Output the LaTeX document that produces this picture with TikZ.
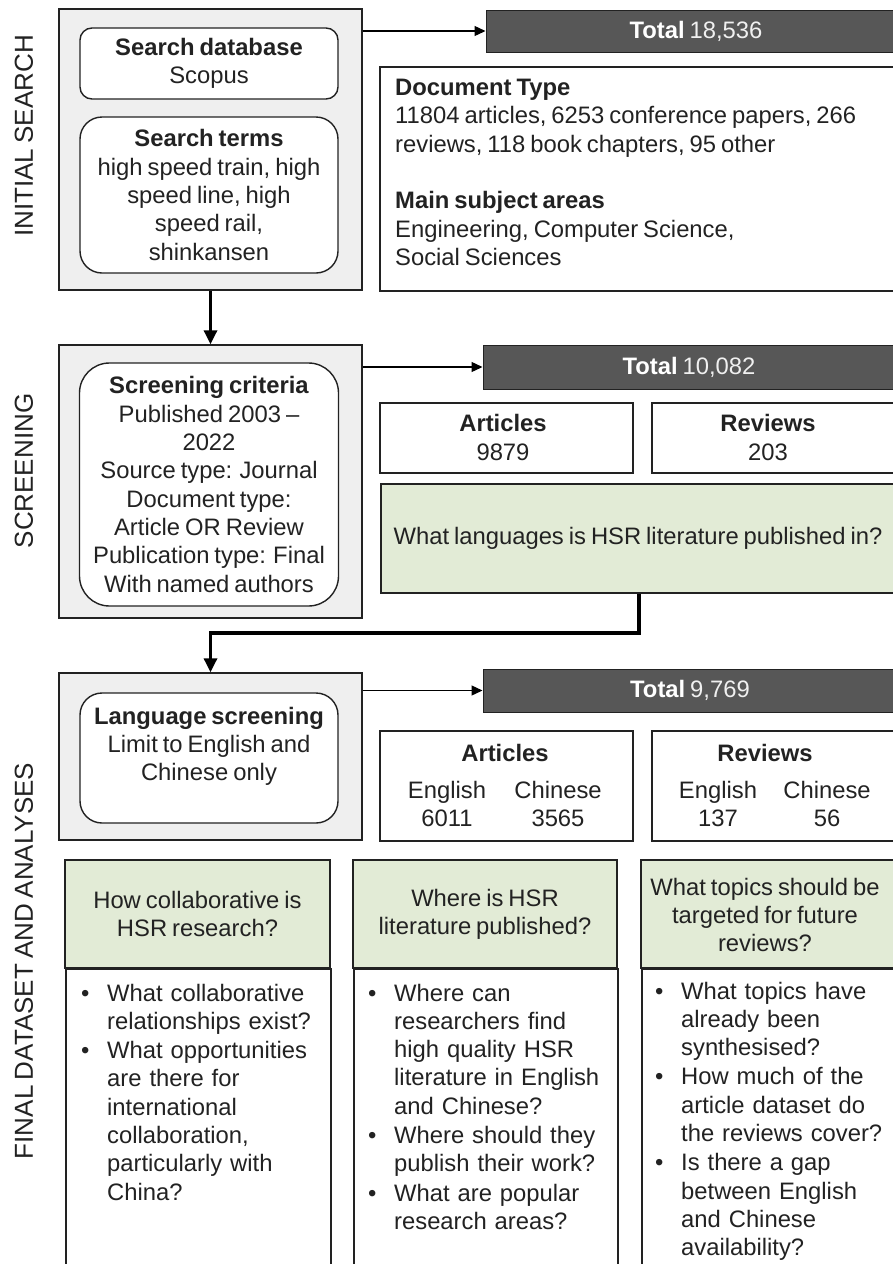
\documentclass[tikz,border=0pt]{standalone}
\usepackage{fontspec}
\setmainfont{Liberation Sans}[WordSpace=0.75]
\usetikzlibrary{arrows.meta}
\definecolor{boxgray}{HTML}{EFEFEF}
\definecolor{bardark}{HTML}{575757}
\definecolor{qgreen}{HTML}{E2EBD6}
\definecolor{ink}{HTML}{222222}
\newcommand{\fsz}{\fontsize{23.8}{28.3}\selectfont}
\newcommand{\qitem}[1]{\noindent\makebox[26pt][l]{\textbullet}\begin{tabular}[t]{@{}l@{}}#1\end{tabular}\par}
\newcommand{\totaltxt}[1]{\textbf{Total} {\color{gray!12}#1}}

\begin{document}
\begin{tikzpicture}[x=1pt, y=-1pt, font=\fsz, text=ink,
    stage/.style={draw=ink, line width=1.4pt, fill=boxgray},
    rbox/.style={draw=ink, line width=1.4pt, fill=white, rounded corners=#1, align=center},
    rbox/.default=12pt,
    wbox/.style={draw=ink, line width=1.6pt, fill=white, anchor=north west},
    qbox/.style={draw=ink, line width=1.6pt, fill=qgreen, align=center},
    totalbar/.style={draw=ink, line width=1pt, fill=bardark, text=white},
    feed/.style={draw=black, line width=1.3pt, -{Triangle[length=11pt,width=10pt]}},
    flow/.style={draw=black, line width=3.2pt, -{Triangle[length=14pt,width=13pt]}},
    stagelabel/.style={rotate=90, font=\fontsize{26}{28}\selectfont}]
      \def\gx{210.5}% centre of the grey stage boxes
      \def\rx{209}
      \def\lx{379}
      \def\mx{651}
      \useasboundingbox (0,0) rectangle (893,1264);
      \clip (0,0) rectangle (893,1264);
      % -------------------------------------------- INITIAL SEARCH
      % set the nodes
      \node[stagelabel] at (24,136) (lab1) {INITIAL SEARCH};
      \node[stage, minimum width=303pt, minimum height=281pt] at (\gx,149.5) (gray1) {};
      \node[rbox, minimum width=258pt, minimum height=71pt] at (\rx,63.5) (db) {\textbf{Search database}\\Scopus};
      \node[rbox=22pt, minimum width=258pt, minimum height=156pt] at (\rx,195) (terms) {\textbf{Search terms}\\high speed train, high\\speed line, high\\speed rail,\\shinkansen};
      \node[totalbar, minimum width=420pt, minimum height=42pt] at (696,31) (total1) {\totaltxt{18,536}};
      \node[wbox, minimum width=531pt, minimum height=224pt] at (\lx,66) (doc) {};
      \node[anchor=north west, align=left, inner sep=0pt] at (395,79) (doctext) {\textbf{Document Type}\\11804 articles, 6253 conference papers, 266\\reviews, 118 book chapters, 95 other\\[28.3pt]\textbf{Main subject areas}\\Engineering, Computer Science,\\Social Sciences};
      % -------------------------------------------- SCREENING
      \node[stagelabel] at (24,471) (lab2) {SCREENING};
      \node[stage, minimum width=303pt, minimum height=273pt] at (\gx,481.5) (gray2) {};
      \node[rbox=30pt, minimum width=259pt, minimum height=243pt] at (\rx,484.5) (crit) {\textbf{Screening criteria}\\Published 2003 --\\2022\\Source type: Journal\\Document type:\\Article OR Review\\Publication type: Final\\With named authors};
      \node[totalbar, minimum width=412pt, minimum height=44pt] at (689,367) (total2) {\totaltxt{10,082}};
      \node[wbox, minimum width=253pt, minimum height=70pt] at (\lx,402) (art2) {};
      \node[align=center] at (503,437.5) (art2text) {\textbf{Articles}\\9879};
      \node[wbox, minimum width=260pt, minimum height=70pt] at (\mx,402) (rev2) {};
      \node[align=center] at (768,437.5) (rev2text) {\textbf{Reviews}\\203};
      \node[qbox, minimum width=514pt, minimum height=109pt] at (638,538.5) (green2) {What languages is HSR literature published in?};
      % -------------------------------------------- FINAL DATASET AND ANALYSES
      \node[stagelabel] at (24,961) (lab3) {FINAL DATASET AND ANALYSES};
      \node[stage, minimum width=303pt, minimum height=167pt] at (\gx,756.5) (gray3) {};
      \node[rbox=22pt, minimum width=258pt, minimum height=130pt] at (\rx,758) (lang) {\textbf{Language screening}\\Limit to English and\\Chinese only\\\mbox{}};
      \node[totalbar, minimum width=414pt, minimum height=43pt] at (690,690.5) (total3) {\totaltxt{9,769}};
      \node[wbox, minimum width=253pt, minimum height=110pt] at (\lx,730) (art3) {};
      \node at (505,753) (art3head) {\textbf{Articles}};
      \node[align=center] at (447,804) (art3en) {English\\6011};
      \node[align=center] at (558,804) (art3cn) {Chinese\\3565};
      \node[wbox, minimum width=260pt, minimum height=110pt] at (\mx,730) (rev3) {};
      \node at (765,753) (rev3head) {\textbf{Reviews}};
      \node[align=center] at (718,804) (rev3en) {English\\137};
      \node[align=center] at (827,804) (rev3cn) {Chinese\\56};
      % question columns
      \node[wbox, minimum width=265pt, minimum height=330pt] at (65,968) (body1) {};
      \node[wbox, minimum width=264pt, minimum height=330pt] at (353,968) (body2) {};
      \node[wbox, minimum width=264pt, minimum height=330pt] at (641,968) (body3) {};
      \node[qbox, minimum width=265pt, minimum height=108pt] at (197.5,914) (q1) {How collaborative is\\HSR research?};
      \node[qbox, minimum width=264pt, minimum height=108pt] at (485,914) (q2) {Where is HSR\\literature published?};
      \node[qbox, minimum width=264pt, minimum height=108pt] at (773,914) (q3) {};
      \node[align=center] at (765,915) (q3text) {What topics should be\\targeted for future\\reviews?};
      \node[anchor=north west, inner sep=0pt, text width=250pt, align=left] at (81,981) (list1) {%
        \qitem{What collaborative\\relationships exist?}%
        \qitem{What opportunities\\are there for\\international\\collaboration,\\particularly with\\China?}};
      \node[anchor=north west, inner sep=0pt, text width=250pt, align=left] at (368,981) (list2) {%
        \qitem{Where can\\researchers find\\high quality HSR\\literature in English\\and Chinese?}%
        \qitem{Where should they\\publish their work?}%
        \qitem{What are popular\\research areas?}};
      \node[anchor=north west, inner sep=0pt, text width=250pt, align=left] at (655,979) (list3) {%
        \qitem{What topics have\\already been\\synthesised?}%
        \qitem{How much of the\\article dataset do\\the reviews cover?}%
        \qitem{Is there a gap\\between English\\and Chinese\\availability?}};
      % draw edges
      \coordinate (bend) at (639,633);
      \draw[feed] (gray1.east |- total1.west) -- (total1.west);
      \draw[feed] (gray2.east |- total2.west) -- (total2.west);
      \draw[feed] (gray3.east |- total3.west) -- (total3.west);
      \draw[flow] (gray1.south) -- (gray2.north);
      \draw[flow] (green2.south -| bend) -- (bend) -| (gray3.north);
\end{tikzpicture}
\end{document}
